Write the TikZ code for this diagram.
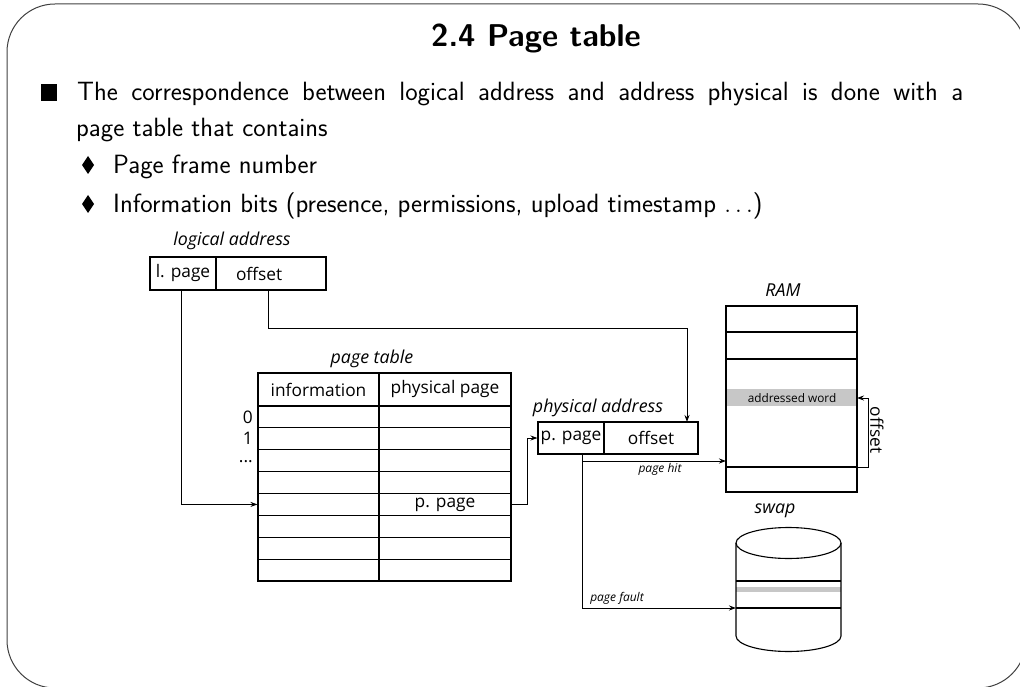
\documentclass[tikz,border=0pt]{standalone}
\usepackage{fontspec}
\newfontfamily\osans{Open Sans}
\usetikzlibrary{arrows.meta}
\tikzset{
  body/.style={anchor=base west, inner sep=0pt, font=\sffamily\fontsize{26.4}{30}\selectfont},
  cell/.style={draw, line width=1.1pt, inner sep=0pt, font=\osans\fontsize{17.3}{19}\selectfont},
  lab/.style={inner sep=0pt, font=\osans\itshape\fontsize{17.8}{19}\selectfont},
  smalllab/.style={inner sep=0pt, font=\osans\itshape\fontsize{12}{13}\selectfont},
  rowlab/.style={inner sep=0pt, anchor=base east, font=\osans\fontsize{17.3}{19}\selectfont},
  arr/.style={line width=1pt, -{Stealth[length=7pt,width=5pt]}},
  ln/.style={line width=1.1pt},
}
\begin{document}
\begin{tikzpicture}[x=1pt,y=-1pt]
\useasboundingbox (0,0) rectangle (1020,687);
\clip (0,0) rectangle (1020,687);
% frame
\draw[line width=1pt, rounded corners=48pt, black!75] (7,4) rectangle (1026,688);
% title
\node[anchor=base, inner sep=0pt, font=\sffamily\bfseries\fontsize{31.5}{34}\selectfont] (title) at (536,47) {2.4 Page table};
% bullets
\fill (41,84) rectangle (57,101);
\fill (88,156) -- (94,165) -- (88,174) -- (82,165) -- cycle;
\fill (88,195) -- (94,204) -- (88,213) -- (82,204) -- cycle;
\node[body] (l1) at (77,101) {\makebox[886pt][s]{The correspondence between logical address and address physical is done with a}};
\node[body] (l2) at (76,137) {page table that contains};
\node[body] (l3) at (113,174) {Page frame number};
\node[body] (l4) at (113,213) {Information bits (presence, permissions, upload timestamp \ensuremath{\ldots})};
% logical address
\node[lab, anchor=base] (lalab) at (232,246) {logical address};
\node[cell, minimum width=66pt, minimum height=33pt] (lp) at (183,273.5) {l. page};
\node[cell, minimum width=110pt, minimum height=33pt, text width=70pt, align=left] (lo) at (271,273.5) {offset};
% page table
\node[lab, anchor=base] (ptlab) at (372,363) {page table};
\node[cell, minimum width=121pt, minimum height=33pt] (h1) at (318.5,389.5) {information};
\node[cell, minimum width=132pt, minimum height=33pt] (h2) at (445,389.5) {physical page};
\foreach \i in {1,...,8}{
  \node[cell, minimum width=121pt, minimum height=21.875pt] (r\i a) at (318.5,{406+(\i-0.5)*21.875}) {};
  \node[cell, minimum width=132pt, minimum height=21.875pt] (r\i b) at (445,{406+(\i-0.5)*21.875}) {};
}
\node[cell, draw=none] (pp5) at (r5b) {p. page};
\node[rowlab] (n0) at (253,423) {0};
\node[rowlab] (n1) at (253,444.5) {1};
\node[rowlab] (n2) at (253,462) {...};
% physical address
\node[lab, anchor=base] (palab) at (598,412) {physical address};
\node[cell, minimum width=66pt, minimum height=32pt] (pp) at (571,438) {p. page};
\node[cell, minimum width=94pt, minimum height=32pt] (po) at (651,438) {offset};
% RAM
\node[lab] (ramlab) at (783,290) {RAM};
\fill[black!22] (726,389) rectangle (857,406);
\node[draw, line width=1.1pt, minimum width=131pt, minimum height=186pt, inner sep=0pt] (ram) at (791.5,399) {};
\draw[ln] (726,332) -- (857,332);
\draw[ln] (726,359) -- (857,359);
\draw[ln] (726,467) -- (857,467);
\node[inner sep=0pt, font=\osans\fontsize{11.8}{13}\selectfont] (aw) at (792,398) {addressed word};
% swap
\node[lab] (swaplab) at (775,511) {swap};
\fill[black!22] (736,587) rectangle (841,592);
\draw[ln] (736,581) -- (841,581);
\draw[ln] (736,608) -- (841,608);
\draw[ln] (736,543) -- (736,636) arc[start angle=180, end angle=360, x radius=52.5pt, y radius=15.5pt] -- (841,543);
\draw[ln] (788.5,543) ellipse[x radius=52.5pt, y radius=15.5pt];
% coordinates
\coordinate (oc) at (687,422);
\coordinate (ph) at (582,454);
\coordinate (ramhit) at (726,461);
\coordinate (swapin) at (736,608);
\coordinate (rw) at (857,398);
\coordinate (rl) at (857,467);
% connectors
\draw[arr] (181,290) |- (r5a.west);
\draw[arr] (268,290) -- (268,328) -| (oc);
\draw[arr] (r5b.east) -- ++(16,0) |- (pp.west);
\draw[arr] (ph) |- (ramhit);
\draw[arr] (ph) |- (swapin);
\draw[arr] (rl) -- ++(11,0) |- (rw);
% connector labels
\node[smalllab] (hitlab) at (660,469) {page hit};
\node[smalllab] (faultlab) at (617,598) {page fault};
\node[inner sep=0pt, rotate=-90, font=\osans\fontsize{17.3}{19}\selectfont] (offlab) at (877,430) {offset};
\end{tikzpicture}
\end{document}
